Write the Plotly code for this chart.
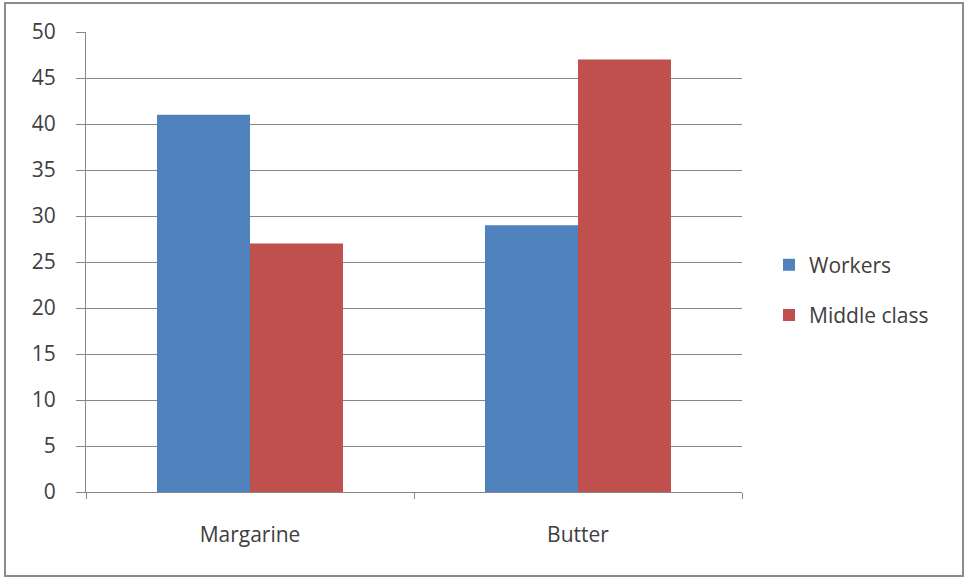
import plotly.graph_objects as go

categories = ["Margarine", "Butter"]
workers = [41, 29]
middle_class = [27, 47]
y_ticks = [0, 5, 10, 15, 20, 25, 30, 35, 40, 45, 50]

FONT = "Open Sans"
TXT = "#404040"

fig = go.Figure()
fig.add_trace(go.Bar(x=categories, y=workers, name="Workers",
                     marker=dict(color="#4F81BD", line=dict(width=0)),
                     legendgroup="a"))
fig.add_trace(go.Bar(x=categories, y=middle_class, name="Middle class",
                     marker=dict(color="#C0504D", line=dict(width=0)),
                     legendgroup="b"))

W, H = 966, 578
L, R, T, B = 86, 224, 32, 86
pw, ph = W - L - R, H - T - B

def px_x(x):
    return (x - L) / pw

def px_y(y):
    return (H - B - y) / ph

fig.update_layout(
    width=W, height=H,
    margin=dict(l=L, r=R, t=T, b=B),
    paper_bgcolor="white", plot_bgcolor="white",
    barmode="group", bargap=0.433, bargroupgap=0,
    font=dict(family=FONT, size=20, color=TXT),
    showlegend=True,
    legend=dict(x=px_x(769), y=px_y(290), xanchor="left", yanchor="middle",
                font=dict(family=FONT, size=21, color=TXT),
                tracegroupgap=20, itemwidth=30, bgcolor="rgba(0,0,0,0)"),
    xaxis=dict(showgrid=False, showline=True, linecolor="#868686", linewidth=1,
               ticks="outside", tickson="boundaries", ticklen=6, tickcolor="#868686",
               ticklabelstandoff=24, tickfont=dict(family=FONT, size=21, color=TXT)),
    yaxis=dict(range=[0, 50], tickvals=y_ticks, showgrid=True, gridcolor="#868686",
               gridwidth=1, showline=True, linecolor="#868686", linewidth=1,
               ticks="outside", ticklen=9, tickcolor="#868686", zeroline=False,
               ticklabelstandoff=16, tickfont=dict(family=FONT, size=21, color=TXT)),
    shapes=[dict(type="rect", xref="paper", yref="paper",
                 x0=px_x(5), x1=px_x(963), y0=px_y(576), y1=px_y(3),
                 line=dict(color="#8C8C8C", width=2), fillcolor="rgba(0,0,0,0)",
                 layer="below")],
)

fig.write_html("out.html")
